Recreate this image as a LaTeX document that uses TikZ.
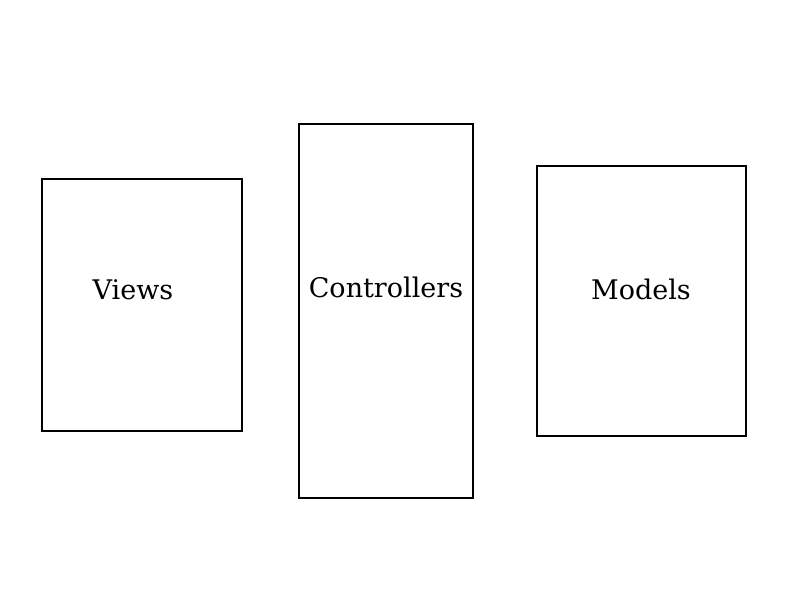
\documentclass[tikz,border=0pt]{standalone}
\usepackage{fontspec}
\setmainfont{DejaVu Serif}
\begin{document}
\begin{tikzpicture}[x=1pt,y=-1pt,
  box/.style={draw,line width=1.6pt,inner sep=0pt},
  lbl/.style={font=\fontsize{27}{32}\selectfont,inner sep=0pt}]
\useasboundingbox[fill=white] (0,0) rectangle (800,600);
\node[box,minimum width=200pt,minimum height=252pt] (views) at (142,305) {};
\node[box,minimum width=174pt,minimum height=374pt] (ctrl) at (386,311) {};
\node[box,minimum width=209pt,minimum height=270pt] (models) at (641.5,301) {};
\node[lbl] (vt) at (133,290) {Views};
\node[lbl] (ct) at (386,287) {Controllers};
\node[lbl] (mt) at (641,289) {Models};
\end{tikzpicture}
\end{document}
